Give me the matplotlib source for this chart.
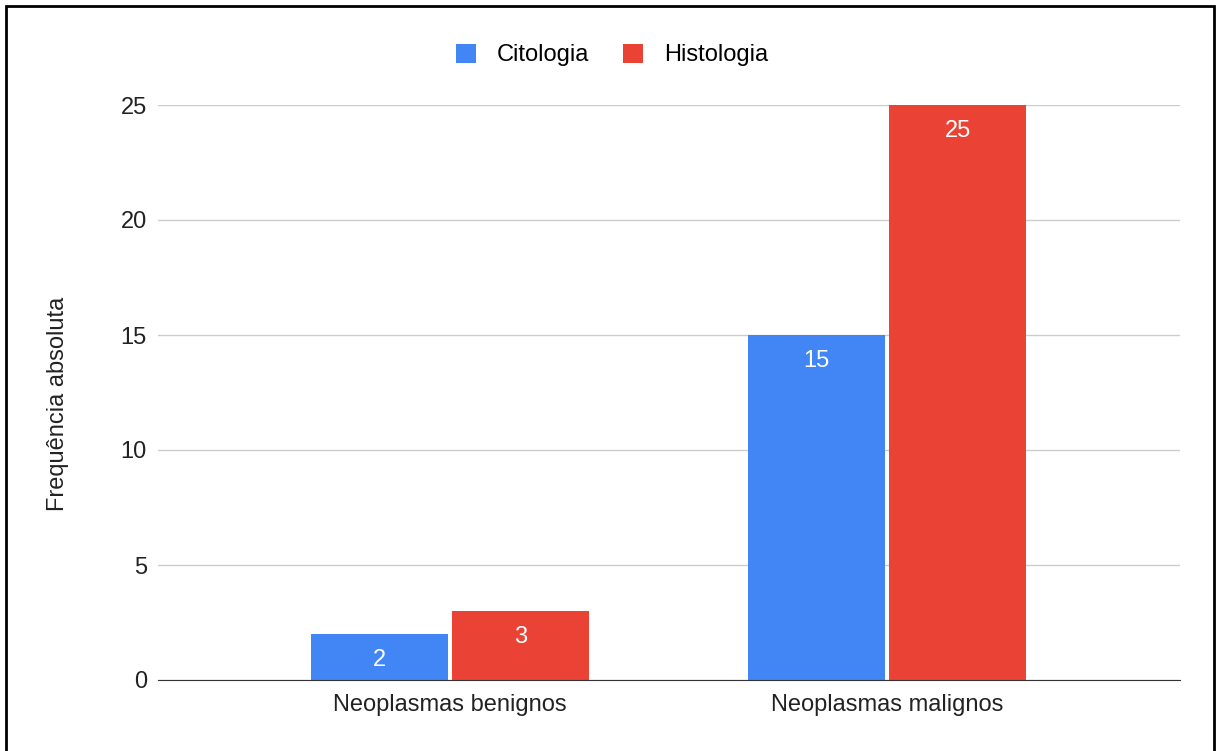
import numpy as np
import matplotlib.pyplot as plt
from matplotlib.patches import Rectangle

categories = ["Neoplasmas benignos", "Neoplasmas malignos"]
citologia = [2, 15]
histologia = [3, 25]
yticks = [0, 5, 10, 15, 20, 25]

plt.rcParams['font.family'] = ['Liberation Sans', 'DejaVu Sans']
fs = 17

fig = plt.figure(figsize=(12.19, 7.51), dpi=100)
ax = fig.add_axes([158 / 1219, 1 - 680 / 751, (1180 - 158) / 1219, (680 - 105) / 751])

x = np.arange(len(categories))
w = 0.313
gap = 0.005
b1 = ax.bar(x - w / 2 - gap, citologia, w, color="#4285f4", label="Citologia", zorder=3)
b2 = ax.bar(x + w / 2 + gap, histologia, w, color="#ea4335", label="Histologia", zorder=3)

for bars in (b1, b2):
    for r in bars:
        h = r.get_height()
        ax.annotate(str(int(h)), (r.get_x() + r.get_width() / 2, h), xytext=(0, -11),
                    textcoords="offset points", ha="center", va="top",
                    color="white", fontsize=fs)

ax.set_xlim(-0.668, 1.67)
ax.set_ylim(0, 25)
ax.set_yticks(yticks)
ax.set_xticks(x)
ax.set_xticklabels(categories)
ax.tick_params(axis="both", length=0, labelsize=fs, colors="#222222")
ax.tick_params(axis="y", pad=8)
ax.tick_params(axis="x", pad=10)
ax.grid(axis="y", color="#cccccc", linewidth=1, zorder=0)
for s in ["left", "right", "top"]:
    ax.spines[s].set_visible(False)
ax.spines["bottom"].set_color("#333333")
ax.spines["bottom"].set_zorder(4)
ax.set_ylabel("Frequência absoluta", fontsize=fs, color="#222222")
ax.yaxis.set_label_coords(-0.087, 0.48)

fig.legend(handles=[b1, b2], loc="center", bbox_to_anchor=(612 / 1219, 1 - 55 / 751),
           ncol=2, frameon=False, fontsize=fs, handlelength=0.85, handleheight=0.85,
           handletextpad=0.9, columnspacing=1.4)

fig.patches.append(Rectangle((6 / 1219, -0.01), (1214 - 6) / 1219, 1 - 6 / 751 + 0.01,
                             transform=fig.transFigure, fill=False, edgecolor="black",
                             linewidth=2))

fig.savefig("out.png", dpi=100)
